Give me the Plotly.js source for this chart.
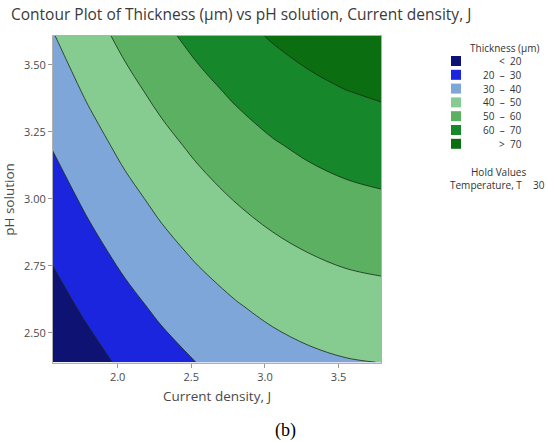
<!DOCTYPE html>
<html>
<head>
<meta charset="utf-8">
<script src="https://cdn.plot.ly/plotly-3.0.1.min.js"></script>
<style>html,body{margin:0;padding:0;background:#fff;}#chart{width:547px;height:442px;}</style>
</head>
<body>
<div id="chart"></div>
<script>
// Data
const currentDensity = [1.56, 1.8, 2.05, 2.3, 2.55, 2.8, 3.05, 3.3, 3.55, 3.79];
const phSolution = [2.39, 2.6, 2.8, 3.0, 3.2, 3.4, 3.61];
const thickness = [
  [11.5, 16.6, 21.8, 26.4, 30.3, 33.6, 36.2, 38.2, 39.5, 40.1],
  [16.5, 21.9, 27.3, 32.0, 36.0, 39.4, 42.2, 44.3, 45.8, 46.6],
  [21.2, 27.0, 32.5, 37.3, 41.4, 44.9, 47.8, 50.1, 51.8, 52.7],
  [25.9, 31.8, 37.4, 42.3, 46.6, 50.4, 53.5, 56.0, 57.8, 58.9],
  [30.5, 36.5, 42.3, 47.4, 52.0, 55.9, 59.2, 61.8, 63.8, 65.0],
  [35.0, 41.2, 47.2, 52.6, 57.3, 61.4, 64.9, 67.6, 69.8, 71.2],
  [39.6, 46.2, 52.4, 58.0, 62.9, 67.2, 70.8, 73.8, 76.1, 77.7]
];
const legendLabels = ['<\u00a0\u00a020', '20\u00a0\u00a0\u2013\u00a0\u00a030', '30\u00a0\u00a0\u2013\u00a0\u00a040', '40\u00a0\u00a0\u2013\u00a0\u00a050', '50\u00a0\u00a0\u2013\u00a0\u00a060', '60\u00a0\u00a0\u2013\u00a0\u00a070', '>\u00a0\u00a070'];
const bandColors = ['#0e1272', '#1b25de', '#7ea6d8', '#86cc90', '#5cb062', '#16872b', '#0b6f12'];
const xTicks = [2.0, 2.5, 3.0, 3.5];
const yTicks = [2.50, 2.75, 3.00, 3.25, 3.50];

// layout geometry (pixels)
const W = 547, H = 442;
const L = 53, R = 381, T = 36, B = 363;
const px = v => (v - L) / (R - L);
const py = v => (B - v) / (B - T);

const colorscale = bandColors.map((c, i) => [i / (bandColors.length - 1), c]);

const trace = {
  type: 'contour',
  x: currentDensity,
  y: phSolution,
  z: thickness,
  contours: {start: 20, end: 70, size: 10, coloring: 'fill'},
  colorscale: colorscale,
  showscale: false,
  line: {color: '#1a2a1a', width: 0.8, smoothing: 1},
  hoverinfo: 'skip'
};

const shapes = [];
const annotations = [];
const font = {family: 'Open Sans, sans-serif', size: 10, color: '#333'};
legendLabels.forEach((lab, i) => {
  const cy = 61 + i * 13.8;
  shapes.push({type: 'rect', xref: 'paper', yref: 'paper',
    x0: px(451), x1: px(461), y0: py(cy + 5), y1: py(cy - 5),
    fillcolor: bandColors[i], line: {width: 0}});
  annotations.push({xref: 'paper', yref: 'paper', x: px(524), y: py(cy),
    xanchor: 'right', yanchor: 'middle', text: lab, showarrow: false, font: font});
});
annotations.push({xref: 'paper', yref: 'paper', x: px(504), y: py(48), xanchor: 'center', yanchor: 'middle',
  text: 'Thickness (\u00b5m)', showarrow: false, font: font});
annotations.push({xref: 'paper', yref: 'paper', x: px(498), y: py(172), xanchor: 'center', yanchor: 'middle',
  text: 'Hold Values', showarrow: false, font: font});
annotations.push({xref: 'paper', yref: 'paper', x: px(448), y: py(185), xanchor: 'left', yanchor: 'middle',
  text: 'Temperature, T', showarrow: false, font: font});
annotations.push({xref: 'paper', yref: 'paper', x: px(547), y: py(185), xanchor: 'right', yanchor: 'middle',
  text: '30', showarrow: false, font: font});
annotations.push({xref: 'paper', yref: 'paper', x: px(285), y: py(430), xanchor: 'center', yanchor: 'middle',
  text: '(b)', showarrow: false, font: {family: 'Liberation Serif, serif', size: 18, color: '#000'}});

const axisCommon = {
  showgrid: false, zeroline: false,
  ticks: 'outside', ticklen: 4, tickcolor: '#999', tickwidth: 1,
  showline: true, linecolor: '#b0b0b0', linewidth: 1, mirror: true,
  tickfont: {family: 'Open Sans, sans-serif', size: 11, color: '#4a4a4a'}
};

const layout = {
  width: W, height: H,
  margin: {l: L, r: W - R, t: T, b: H - B, pad: 0},
  paper_bgcolor: '#fff', plot_bgcolor: '#fff',
  title: {text: 'Contour Plot of Thickness (\u00b5m) vs pH solution, Current density, J',
    x: 11 / W, xanchor: 'left', xref: 'container', y: 1 - 15 / H, yanchor: 'middle', yref: 'container',
    font: {family: 'Open Sans, sans-serif', size: 15.5, color: '#3a3a3a'}},
  xaxis: Object.assign({}, axisCommon, {
    range: [1.561, 3.788], tickvals: xTicks, tickformat: '.1f',
    title: {text: 'Current density, J', standoff: 8, font: {family: 'Open Sans, sans-serif', size: 13.5, color: '#4a4a4a'}}
  }),
  yaxis: Object.assign({}, axisCommon, {
    range: [2.387, 3.608], tickvals: yTicks, tickformat: '.2f',
    title: {text: 'pH solution', standoff: 8, font: {family: 'Open Sans, sans-serif', size: 13.5, color: '#4a4a4a'}}
  }),
  shapes: shapes,
  annotations: annotations,
  showlegend: false
};

Plotly.newPlot('chart', [trace], layout, {displayModeBar: false, staticPlot: true});
</script>
</body>
</html>
